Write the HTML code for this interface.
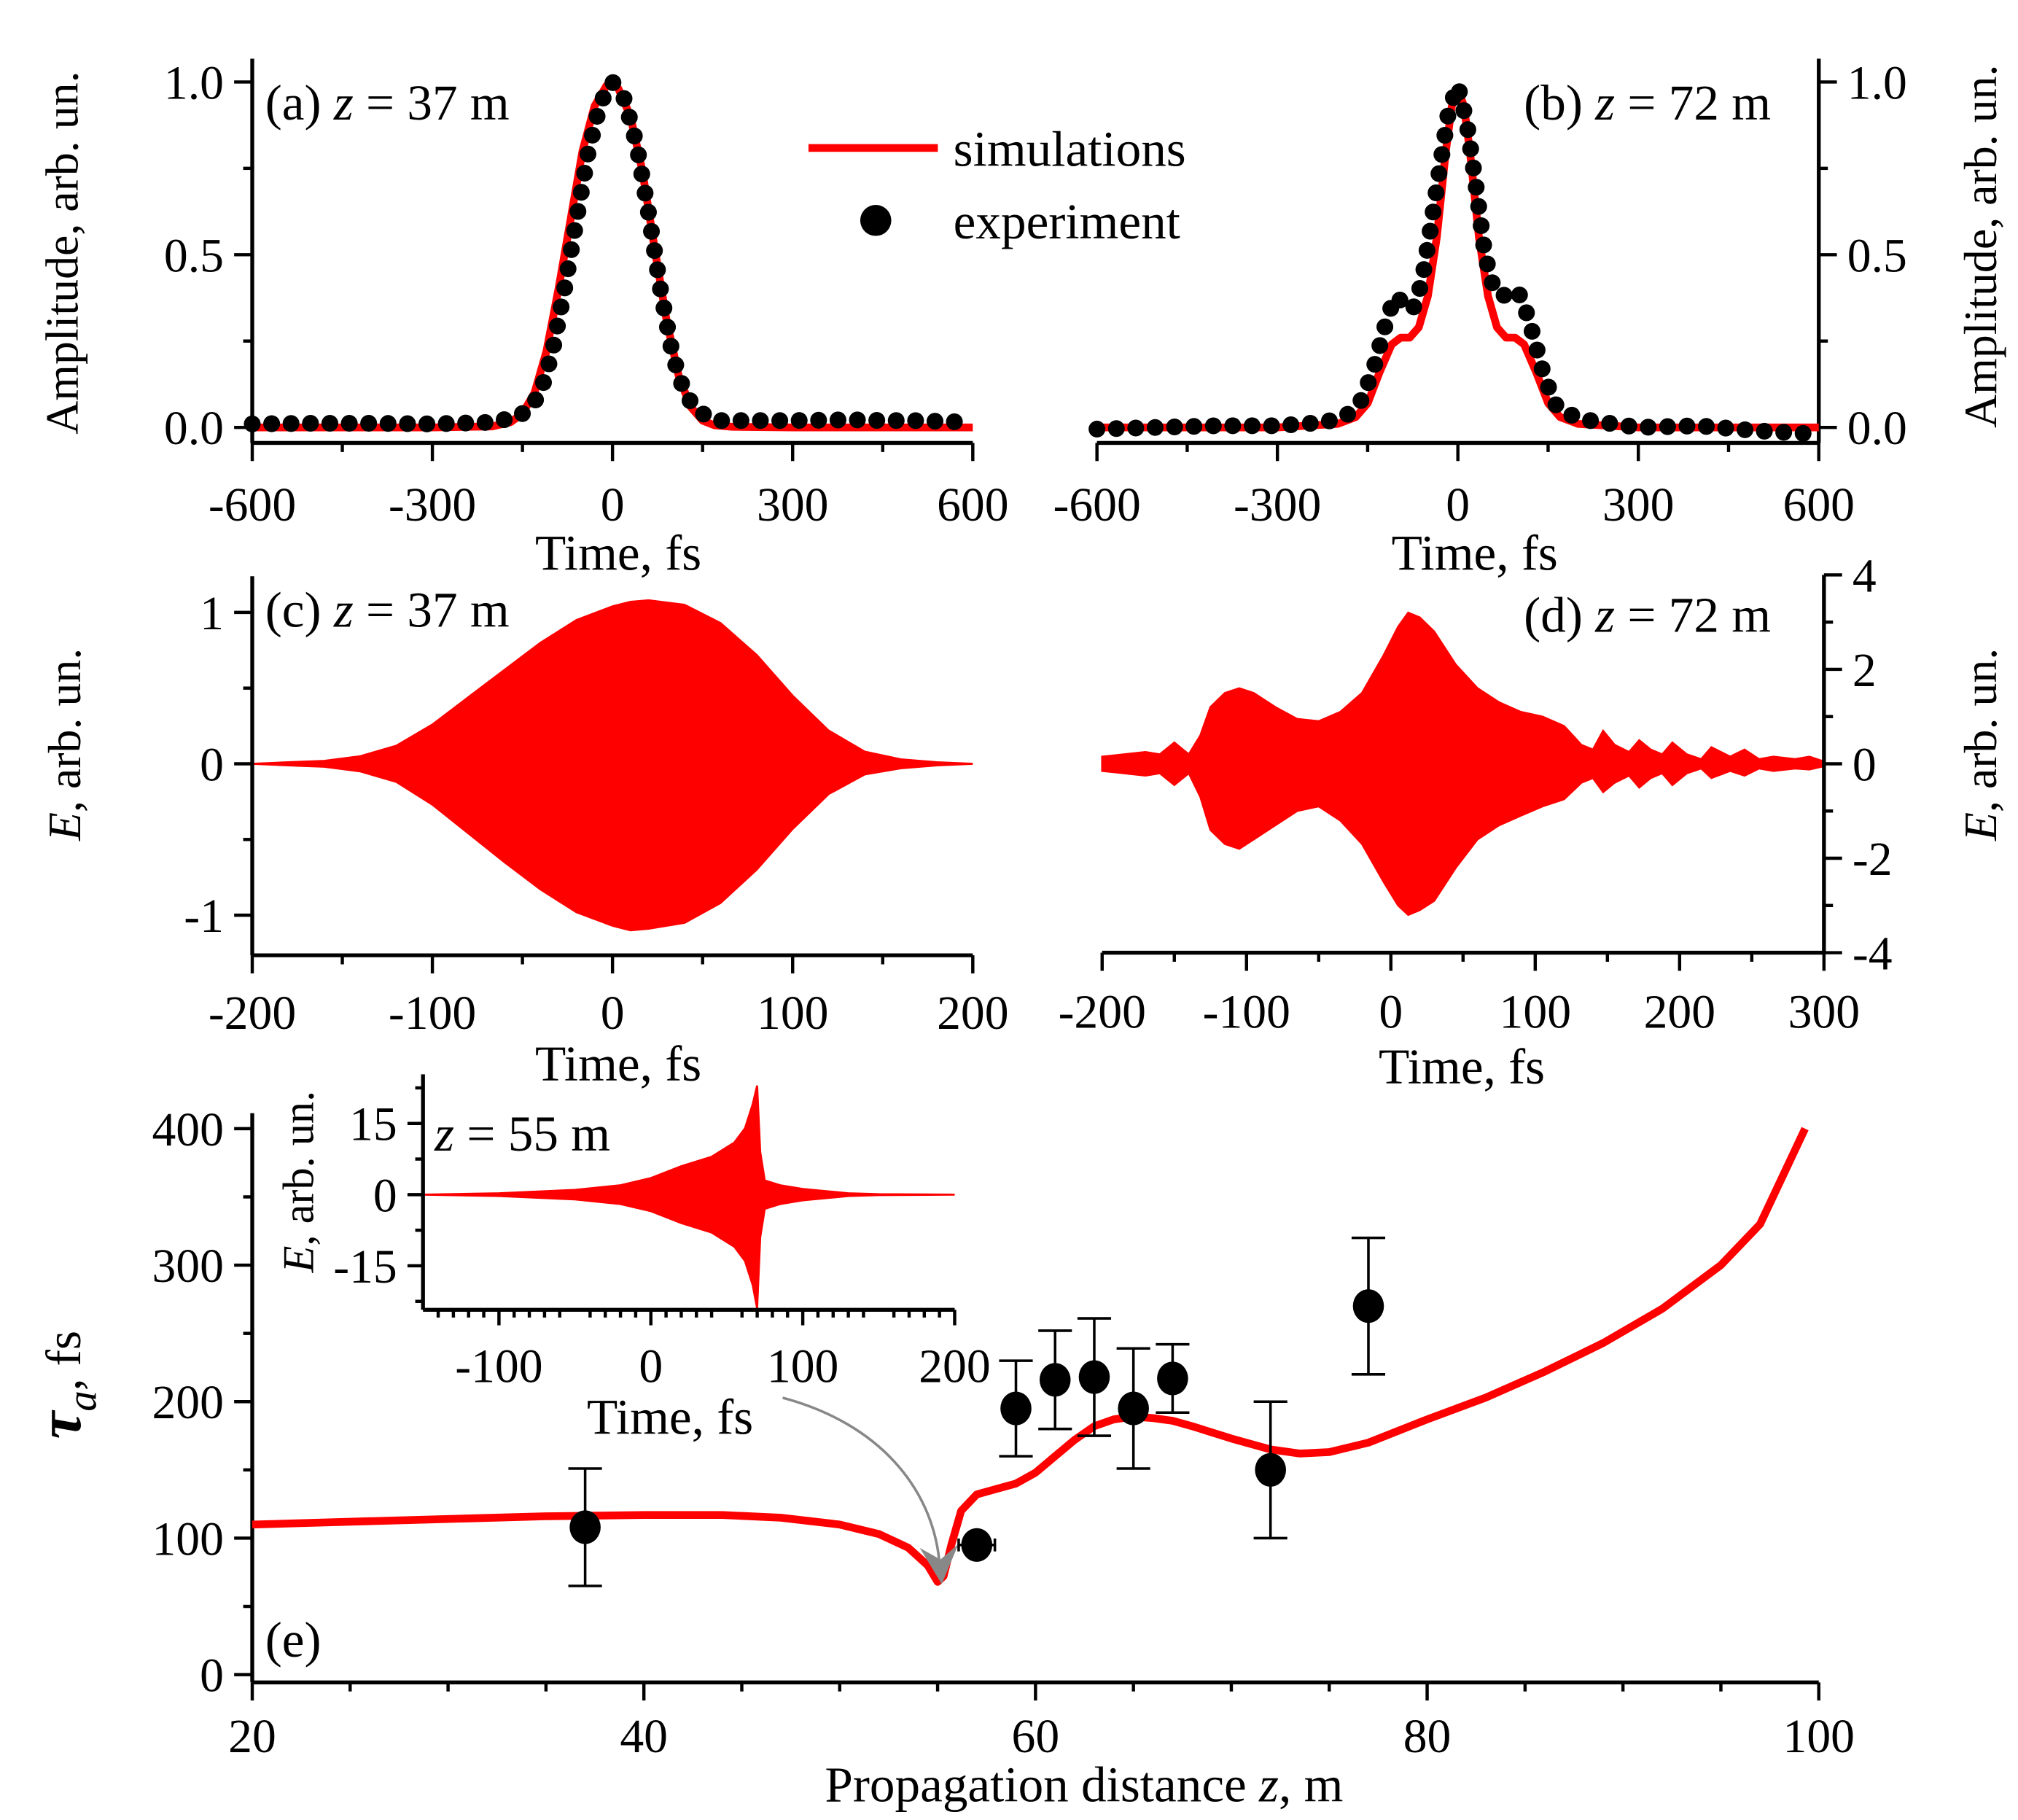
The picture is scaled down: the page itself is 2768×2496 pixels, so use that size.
<!DOCTYPE html>
<html><head><meta charset="utf-8"><style>
html,body{margin:0;padding:0;background:#fff}
svg{display:block}
text{font-family:"Liberation Serif",serif;fill:#000}
</style></head><body>
<svg id="fig" width="2768" height="2496" viewBox="0 0 1560 1406" xmlns="http://www.w3.org/2000/svg">
<g id="root"></g>
</svg>
<script>
// ---- data ----
const aSimT=[-600,-300,-200,-170,-150,-130,-110,-90,-70,-50,-30,-10,0,10,30,50,70,90,110,130,150,170,200,300,600];
const aSimV=[0,0,0.003,0.015,0.04,0.1,0.22,0.4,0.6,0.8,0.93,0.99,1.0,0.98,0.9,0.74,0.52,0.31,0.15,0.06,0.02,0.006,0.002,0,0];
const aExpT=[-600,-500,-400,-300,-200,-160,-140,-120,-100,-80,-60,-40,-20,0,20,40,60,80,100,120,140,160,180,200,300,400,450,500,600];
const aExpV=[0.01,0.012,0.012,0.01,0.015,0.03,0.05,0.1,0.22,0.4,0.6,0.8,0.94,1.0,0.95,0.82,0.62,0.4,0.21,0.1,0.05,0.03,0.02,0.02,0.02,0.022,0.02,0.02,0.015];
const bSimT=[-600,-300,-200,-170,-150,-130,-110,-95,-80,-65,-50,-35,-20,-10,0,10,20,35,50,65,80,95,110,130,150,170,200,300,600];
const bSimV=[0,0,0.01,0.03,0.07,0.16,0.24,0.26,0.26,0.29,0.38,0.55,0.8,0.93,0.98,0.93,0.8,0.55,0.38,0.29,0.26,0.26,0.24,0.16,0.07,0.03,0.01,0,0];
const bExpT=[-600,-500,-400,-300,-220,-180,-160,-140,-120,-105,-90,-75,-60,-45,-30,-15,0,15,30,45,60,75,90,105,120,140,160,180,220,300,400,500,600];
const bExpV=[-0.005,0,0.005,0.005,0.015,0.04,0.08,0.17,0.3,0.38,0.36,0.34,0.42,0.58,0.75,0.92,0.99,0.88,0.7,0.5,0.4,0.38,0.4,0.38,0.3,0.17,0.07,0.04,0.02,0.0,0.005,-0.01,-0.02];
const cT=[-200,-180,-160,-140,-120,-100,-80,-60,-40,-20,0,10,20,40,60,80,100,120,140,160,180,200];
const cUp=[0,0.01,0.02,0.05,0.12,0.26,0.44,0.62,0.8,0.95,1.04,1.07,1.08,1.05,0.93,0.72,0.45,0.22,0.08,0.03,0.01,0];
const cLo=[0,-0.01,-0.02,-0.05,-0.12,-0.27,-0.46,-0.65,-0.83,-0.98,-1.07,-1.1,-1.09,-1.05,-0.92,-0.7,-0.43,-0.2,-0.07,-0.03,-0.01,0];
const dT=[-200,-185,-170,-160,-150,-140,-132,-125,-115,-105,-95,-80,-65,-50,-35,-20,-5,5,12,20,30,45,60,75,90,105,120,132,140,147,155,165,172,180,188,195,205,215,222,235,245,255,265,280,290,300];
const dUp=[0.15,0.2,0.25,0.2,0.45,0.2,0.6,1.2,1.5,1.6,1.5,1.2,0.95,0.9,1.1,1.5,2.3,2.9,3.2,3.1,2.8,2.1,1.6,1.3,1.1,1.0,0.8,0.4,0.3,0.7,0.4,0.25,0.5,0.3,0.2,0.45,0.2,0.1,0.35,0.15,0.3,0.1,0.15,0.1,0.15,0.05];
const dLo=[-0.15,-0.2,-0.25,-0.2,-0.45,-0.2,-0.7,-1.4,-1.7,-1.8,-1.6,-1.3,-1.0,-0.9,-1.2,-1.7,-2.5,-3.0,-3.2,-3.1,-2.9,-2.2,-1.6,-1.3,-1.1,-0.9,-0.75,-0.4,-0.3,-0.6,-0.4,-0.25,-0.5,-0.3,-0.2,-0.45,-0.2,-0.1,-0.3,-0.15,-0.25,-0.1,-0.15,-0.1,-0.12,-0.05];
const iT=[-150,-100,-50,-20,0,20,40,55,62,67,70,72,75,85,100,130,150,200];
const iUp=[0,0.3,1,2,3.5,6,8,11,14,19,23,9,3,2,1.2,0.3,0.1,0];
const iLo=[0,-0.3,-1,-2,-3.5,-6,-8,-11,-14,-19,-24,-9,-3,-2,-1.2,-0.3,-0.1,0];
const eSimZ=[20,25,30,35,40,44,47,50,52,53.5,54.5,55,55.3,55.7,56.2,57,58,59,60,61,62,63,64,65,66,67,68,70,72,73.5,75,77,80,83,86,89,92,95,97,99.3];
const eSimV=[110,112,114,116,117,117,115,110,103,93,80,68,72,95,120,132,136,140,148,160,172,182,187,189,188,186,182,173,165,162,163,170,187,203,222,243,268,300,330,400];
const eExpZ=[37,57,59,61,63,65,67,72,77];
const eExpV=[108,95,195,216,218,195,217,150,270];
const eExpErr=[43,0,35,36,43,44,25,50,50];

// ---- helpers ----
const NS='http://www.w3.org/2000/svg';
const root=document.getElementById('root');
function el(tag,attrs,parent,txt){const e=document.createElementNS(NS,tag);for(const k in attrs)e.setAttribute(k,attrs[k]);if(txt!==undefined)e.textContent=txt;(parent||root).appendChild(e);return e;}
function scale(d0,d1,r0,r1){return v=>r0+(v-d0)*(r1-r0)/(d1-d0);}
function axisX(g,sx,y,x0,x1,ticks,minor,len,fs,labOff){
  el('line',{x1:x0,x2:x1,y1:y,y2:y,stroke:'#000','stroke-width':3},g);
  minor.forEach(v=>el('line',{x1:sx(v),x2:sx(v),y1:y,y2:y+len/2,stroke:'#000','stroke-width':2.5},g));
  ticks.forEach(v=>{el('line',{x1:sx(v),x2:sx(v),y1:y,y2:y+len,stroke:'#000','stroke-width':2.5},g);
    const t=el('text',{x:sx(v),y:y+labOff,'font-size':fs,'text-anchor':'middle'},g,String(v));
    
    });
}
function axisY(g,sy,x,y0,y1,ticks,labels,minor,len,fs,side){
  const s=side==='right'?1:-1;
  el('line',{x1:x,x2:x,y1:y0,y2:y1,stroke:'#000','stroke-width':3},g);
  minor.forEach(v=>el('line',{x1:x,x2:x+s*len/2,y1:sy(v),y2:sy(v),stroke:'#000','stroke-width':2.5},g));
  ticks.forEach((v,i)=>{el('line',{x1:x,x2:x+s*len,y1:sy(v),y2:sy(v),stroke:'#000','stroke-width':2.5},g);
    const t=el('text',{x:x+s*(len+8),y:sy(v)+fs*0.35,'font-size':fs,'text-anchor':side==='right'?'start':'end'},g,labels[i]);
    
    });
}
function pts(xs,ys,sx,sy){return xs.map((x,i)=>sx(x).toFixed(1)+','+sy(ys[i]).toFixed(1)).join(' ');}
function envelope(g,T,U,L,sx,sy,name){
  const d=pts(T,U,sx,sy)+' '+pts(T.slice().reverse(),L.slice().reverse(),sx,sy);
  const p=el('polygon',{points:d,fill:'#ff0000',stroke:'#ff0000','stroke-width':1.5},g);
  
  
  const n=T.length;
  for(let t=T[0];t<=T[n-1];t+=1.3){
    let k=0;while(k<n-2&&T[k+1]<t)k++;
    const f=(t-T[k])/(T[k+1]-T[k]);const u=U[k]+f*(U[k+1]-U[k]);const l=L[k]+f*(L[k+1]-L[k]);
    el('line',{x1:sx(t),x2:sx(t),y1:sy(u),y2:sy(l),stroke:'#ff0000','stroke-width':0.8},g);
  }
}
function range(a,b,s){const r=[];for(let v=a;v<=b+1e-9;v+=s)r.push(+v.toFixed(6));return r;}
function label(g,x,y,fs,html,name,anchor,rot){
  const t=el('text',{x:x,y:y,'font-size':fs,'text-anchor':anchor||'start'},g);
  if(rot)t.setAttribute('transform','rotate(-90 '+x+' '+y+')');
  t.innerHTML=html;return t;
}
const TF=37, LF=39;

// ---- panel a ----
{const g=el('g',{});
 const sx=scale(-600,600,195,752),sy=scale(0,1,330,63);
 axisX(g,sx,342,195,752,[-600,-300,0,300,600],range(-450,450,300),14,TF,60);
 axisY(g,sy,195,45,342,[0,0.5,1],['0.0','0.5','1.0'],[0.25,0.75],14,TF,'left');
 const s=el('polyline',{points:pts(aSimT,aSimV,sx,sy),fill:'none',stroke:'#ff0000','stroke-width':6,'stroke-linejoin':'round'},g);
 
 const e=el('polyline',{points:pts(aExpT,aExpV,sx,sy),fill:'none',stroke:'#000','stroke-width':13,'stroke-linecap':'round','stroke-dasharray':'0 15'},g);
 
 label(g,205,92,LF,'(a) <tspan font-style="italic">z</tspan> = 37 m','panel-a-title');
 label(g,478,440,LF,'Time, fs','x-axis-title-a','middle');
 label(g,60,195,36,'Amplitude, arb. un.','y-axis-title-a','middle',true);
 const lg=el('g',{},g);
 el('line',{x1:625,x2:725,y1:114,y2:114,stroke:'#ff0000','stroke-width':6},lg);
 label(lg,737,128,LF,'simulations','legend-simulations');
 el('circle',{cx:677,cy:170,r:12,fill:'#000'},lg);
 label(lg,737,184,LF,'experiment','legend-experiment');
}
// ---- panel b ----
{const g=el('g',{});
 const sx=scale(-600,600,848,1406),sy=scale(0,1,330,63);
 axisX(g,sx,342,848,1406,[-600,-300,0,300,600],range(-450,450,300),14,TF,60);
 axisY(g,sy,1406,45,342,[0,0.5,1],['0.0','0.5','1.0'],[0.25,0.75],14,TF,'right');
 const s=el('polyline',{points:pts(bSimT,bSimV,sx,sy),fill:'none',stroke:'#ff0000','stroke-width':6,'stroke-linejoin':'round'},g);
 
 const e=el('polyline',{points:pts(bExpT,bExpV,sx,sy),fill:'none',stroke:'#000','stroke-width':13,'stroke-linecap':'round','stroke-dasharray':'0 15'},g);
 
 label(g,1178,92,LF,'(b) <tspan font-style="italic">z</tspan> = 72 m','panel-b-title');
 label(g,1140,440,LF,'Time, fs','x-axis-title-b','middle');
 label(g,1543,190,36,'Amplitude, arb. un.','y-axis-title-b','middle',true);
}
// ---- panel c ----
{const g=el('g',{});
 const sx=scale(-200,200,195,752),sy=scale(0,1,590,473);
 envelope(g,cT,cUp,cLo,sx,sy,'field-c');
 axisX(g,sx,738,195,752,[-200,-100,0,100,200],range(-150,150,100),14,TF,57);
 axisY(g,sy,195,445,738,[-1,0,1],['-1','0','1'],[-0.5,0.5],14,TF,'left');
 label(g,205,484,LF,'(c) <tspan font-style="italic">z</tspan> = 37 m','panel-c-title');
 label(g,478,835,LF,'Time, fs','x-axis-title-c','middle');
 label(g,62,575,36,'<tspan font-style="italic">E</tspan>, arb. un.','y-axis-title-c','middle',true);
}
// ---- panel d ----
{const g=el('g',{});
 const sx=scale(-200,300,852,1410),sy=scale(0,4,590,444);
 envelope(g,dT,dUp,dLo,sx,sy,'field-d');
 axisX(g,sx,736,852,1410,[-200,-100,0,100,200,300],range(-150,250,100),14,TF,58);
 axisY(g,sy,1410,444,736,[-4,-2,0,2,4],['-4','-2','0','2','4'],[-3,-1,1,3],14,TF,'right');
 label(g,1178,488,LF,'(d) <tspan font-style="italic">z</tspan> = 72 m','panel-d-title');
 label(g,1130,837,LF,'Time, fs','x-axis-title-d','middle');
 label(g,1543,575,36,'<tspan font-style="italic">E</tspan>, arb. un.','y-axis-title-d','middle',true);
}
// ---- panel e ----
{const g=el('g',{});
 const sx=scale(20,100,195,1406),sy=scale(0,400,1294,872);
 axisX(g,sx,1300,195,1406,[20,40,60,80,100],range(25,95,5).filter(v=>v%20!==0),14,TF,54);
 axisY(g,sy,195,860,1300,[0,100,200,300,400],['0','100','200','300','400'],[50,150,250,350],14,TF,'left');
 const ar=el('path',{d:'M605,1080 C680,1100 720,1150 726,1205',fill:'none',stroke:'#888','stroke-width':2},g);
 
 const s=el('polyline',{points:pts(eSimZ,eSimV,sx,sy),fill:'none',stroke:'#ff0000','stroke-width':6,'stroke-linejoin':'round'},g);
 
 el('polygon',{points:'711,1196 727,1205 741,1193 728,1224',fill:'#888'},g);
 eExpZ.forEach((z,i)=>{
   const x=sx(z),y=sy(eExpV[i]),e=eExpErr[i];
   if(e>0){
     const eb=el('path',{d:`M${x},${sy(eExpV[i]+e)}V${sy(eExpV[i]-e)}M${x-13},${sy(eExpV[i]+e)}h26M${x-13},${sy(eExpV[i]-e)}h26`,stroke:'#000','stroke-width':2,fill:'none'},g);
     
     
   } else {
     el('path',{d:`M${x-14},${y}h28M${x-14},${y-5}v10M${x+14},${y-5}v10`,stroke:'#000','stroke-width':2,fill:'none'},g);
   }
   const c=el('ellipse',{cx:x,cy:y,rx:12,ry:13,fill:'#000'},g);
   
   
 });
 label(g,205,1280,LF,'(e)','panel-e-title');
 label(g,838,1392,LF,'Propagation distance <tspan font-style="italic">z</tspan>, m','x-axis-title-e','middle');
 label(g,62,1070,48,'<tspan font-style="italic" font-weight="bold">τ</tspan><tspan font-size="32" font-style="italic" dy="12">a</tspan><tspan dy="-12" font-size="38">, fs</tspan>','y-axis-title-e','middle',true);
}
// ---- inset ----
{const g=el('g',{});
 const sx=scale(-150,200,327,738),sy=scale(0,15,923,868);
 envelope(g,iT,iUp,iLo,sx,sy,'field-inset');
 axisX(g,sx,1012,327,738,[-100,0,100,200],range(-140,190,10).filter(v=>v%50!==0&&v>-150),12,TF,56);
 axisY(g,sy,327,830,1012,[-15,0,15],['-15','0','15'],[-22.5,-7.5,7.5,22.5],12,TF,'left');
 label(g,336,889,LF,'<tspan font-style="italic">z</tspan> = 55 m','inset-title');
 label(g,518,1108,LF,'Time, fs','inset-x-axis-title','middle');
 label(g,242,913,34,'<tspan font-style="italic">E</tspan>, arb. un.','inset-y-axis-title','middle',true);
}
</script>
</body></html>
